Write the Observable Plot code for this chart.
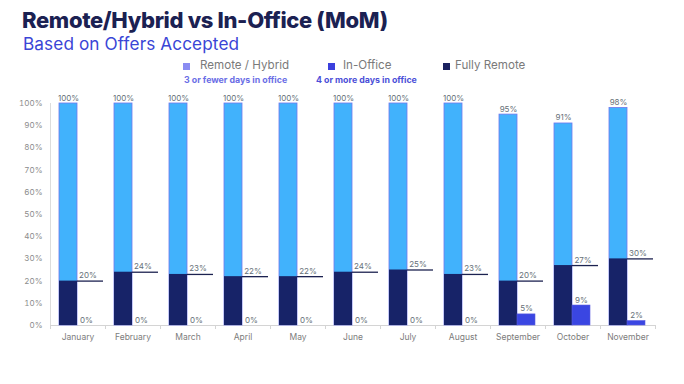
<!DOCTYPE html>
<html>
<head>
<meta charset="utf-8">
<script src="https://cdn.jsdelivr.net/npm/d3@7"></script>
<script src="https://cdn.jsdelivr.net/npm/@observablehq/plot@0.6"></script>
<style>
  body { margin: 0; background: #fff; font-family: Inter, "Open Sans", sans-serif; }
  #wrap { position: relative; width: 684px; height: 384px; overflow: hidden; }
  #head { position: relative; height: 88px; }
  .abs { position: absolute; line-height: 1; white-space: nowrap; }
  .title { left: 22px; top: 9px; font-size: 22px; font-weight: 800; color: #1b2152; letter-spacing: -0.35px; }
  .sub { left: 23px; top: 35px; font-size: 17.2px; font-weight: 400; color: #3a45d6; letter-spacing: 0.1px; }
  .lg { font-size: 11.6px; color: #7a7a7a; top: 60px; }
  .lgs { font-size: 8.8px; font-weight: 700; top: 76px; }
  .sq { position: absolute; width: 7px; height: 7px; top: 63px; }
</style>
</head>
<body>
<div id="wrap">
  <div id="head">
    <div class="abs title">Remote/Hybrid vs In-Office (MoM)</div>
    <div class="abs sub">Based on Offers Accepted</div>
    <div class="sq" style="left:183px;background:#8a8cf2"></div>
    <div class="abs lg" style="left:200px">Remote / Hybrid</div>
    <div class="abs lgs" style="left:184px;color:#6a6ee6">3 or fewer days in office</div>
    <div class="sq" style="left:328px;background:#3b40dd"></div>
    <div class="abs lg" style="left:343px">In-Office</div>
    <div class="abs lgs" style="left:316px;color:#4b4fd8">4 or more days in office</div>
    <div class="sq" style="left:443px;background:#1b2260"></div>
    <div class="abs lg" style="left:455px">Fully Remote</div>
  </div>
  <div id="chart"></div>
</div>
<script>
const months = ["January","February","March","April","May","June","July","August","September","October","November"];
const remoteHybrid = [100,100,100,100,100,100,100,100,95,91,98];
const fullyRemote  = [20,24,23,22,22,24,25,23,20,27,30];
const inOffice     = [0,0,0,0,0,0,0,0,5,9,2];
const yTicks = [0,10,20,30,40,50,60,70,80,90,100];

const data = months.map((m, i) => ({month: m, rh: remoteHybrid[i], fr: fullyRemote[i], io: inOffice[i]}));

const labelColor = "#667078";
const chart = Plot.plot({
  width: 684,
  height: 296,
  marginTop: 15,
  marginBottom: 59,
  marginLeft: 50,
  marginRight: 29,
  style: {fontFamily: "Inter, 'Open Sans', sans-serif", fontSize: "8px", color: "#8a8a8a", background: "#fff"},
  x: {domain: months, padding: 0, label: null},
  y: {domain: [0, 100], label: null},
  marks: [
    Plot.axisY({ticks: yTicks, tickFormat: d => d + "%", tickSize: 0, tickPadding: 8, fill: "#8c8c8c"}),
    Plot.axisX({tickSize: 0, tickPadding: 8, fill: "#7c7c7c", fontSize: 8.5}),
    Plot.frame({anchor: "left", stroke: "#dcdcdc"}),
    Plot.ruleY([0], {stroke: "#d4d4d4"}),
    Plot.ruleX(months, {x: d => d, y1: 0, y2: -1.8, dx: -27.5, stroke: "#d4d4d4"}),
    Plot.ruleX([months[months.length - 1]], {x: d => d, y1: 0, y2: -1.8, dx: 27.5, stroke: "#d4d4d4"}),
    // Remote / Hybrid
    Plot.barY(data, {x: "month", y: "rh", fill: "#41b2fc", stroke: "#7078ee", strokeWidth: 0.8, insetLeft: 9, insetRight: 28}),
    // Fully Remote
    Plot.barY(data, {x: "month", y: "fr", fill: "#172368", insetLeft: 9, insetRight: 28}),
    // In-Office
    Plot.barY(data.filter(d => d.io > 0), {x: "month", y: "io", fill: "#3a46e2", stroke: "#5a5ce0", strokeWidth: 0.6, insetLeft: 27, insetRight: 10}),
    // Fully remote line
    Plot.tickY(data, {x: "month", y: "fr", stroke: "#1c2250", strokeWidth: 1.3, insetLeft: 27, insetRight: 2}),
    // labels
    Plot.text(data, {x: "month", y: "rh", text: d => d.rh + "%", dx: -9.5, dy: -3, lineAnchor: "bottom", fill: labelColor, fontSize: 8}),
    Plot.text(data, {x: "month", y: "fr", text: d => d.fr + "%", dx: 10, dy: -3, lineAnchor: "bottom", fill: labelColor, fontSize: 8}),
    Plot.text(data, {x: "month", y: "io", text: d => d.io + "%", dx: 8.5, dy: -3, lineAnchor: "bottom", fill: labelColor, fontSize: 8})
  ]
});
document.getElementById("chart").appendChild(chart);
</script>
</body>
</html>
